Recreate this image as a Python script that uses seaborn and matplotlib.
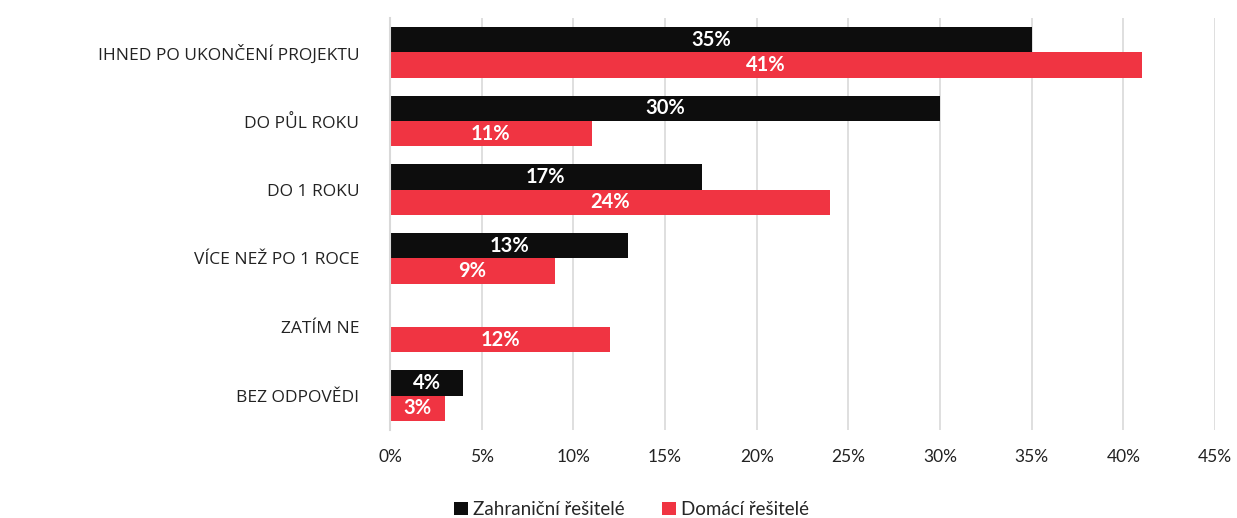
import pandas as pd
import matplotlib.pyplot as plt
import seaborn as sns

# data
categories = ['IHNED PO UKONČENÍ PROJEKTU', 'DO PŮL ROKU', 'DO 1 ROKU',
              'VÍCE NEŽ PO 1 ROCE', 'ZATÍM NE', 'BEZ ODPOVĚDI']
series = ['Zahraniční řešitelé', 'Domácí řešitelé']
foreign = [35, 30, 17, 13, 0, 4]
domestic = [41, 11, 24, 9, 12, 3]
ticks = [0, 5, 10, 15, 20, 25, 30, 35, 40, 45]

df = pd.DataFrame({
    'cat': categories * 2,
    'group': [series[0]] * len(categories) + [series[1]] * len(categories),
    'value': foreign + domestic,
})

sns.set_theme(style='white')
plt.rcParams['font.family'] = ['Lato', 'DejaVu Sans']

fig = plt.figure(figsize=(12.37, 5.18), dpi=100)
ax = fig.add_axes([0.3153, 0.170, 0.9822 - 0.3153, 0.965 - 0.170])

colors = ['#0d0d0d', '#f03442']
sns.barplot(data=df, y='cat', x='value', hue='group', order=categories,
            hue_order=series, palette=colors, width=0.74, orient='h',
            saturation=1, linewidth=0, ax=ax, legend=True)

# value labels centred in the bars
for cont in ax.containers:
    labels = [f'{v:.0f}%' if v > 0 else '' for v in cont.datavalues]
    ax.bar_label(cont, labels=labels, label_type='center', color='white',
                 fontsize=14.5, fontweight='bold')

ax.set_xlim(0, 45)
ax.set_ylim(5.5, -0.5)
ax.set_xticks(ticks)
ax.set_xticklabels([f'{t}%' for t in ticks], fontsize=12.5, color='#222222')
ax.set_yticks(range(len(categories)))
ax.set_yticklabels(categories, fontsize=12.5, color='#222222',
                   family=['Open Sans', 'DejaVu Sans'])
ax.tick_params(axis='y', length=0, pad=22)
ax.tick_params(axis='x', length=0, pad=14)
ax.set_xlabel('')
ax.set_ylabel('')
ax.grid(axis='x', color='#d9d9d9', linewidth=1.2)
ax.set_axisbelow(True)
for s in ['top', 'right', 'bottom']:
    ax.spines[s].set_visible(False)
ax.spines['left'].set_color('#d9d9d9')
ax.spines['left'].set_linewidth(1.5)

handles, lbls = ax.get_legend_handles_labels()
ax.legend(handles, lbls, loc='lower center', bbox_to_anchor=(0.293, -0.255),
          ncol=2, frameon=False, fontsize=13.5, handlelength=0.75,
          handleheight=0.75, handletextpad=0.25, columnspacing=2.0,
          bbox_transform=ax.transAxes)

fig.savefig('out.png', dpi=100)
